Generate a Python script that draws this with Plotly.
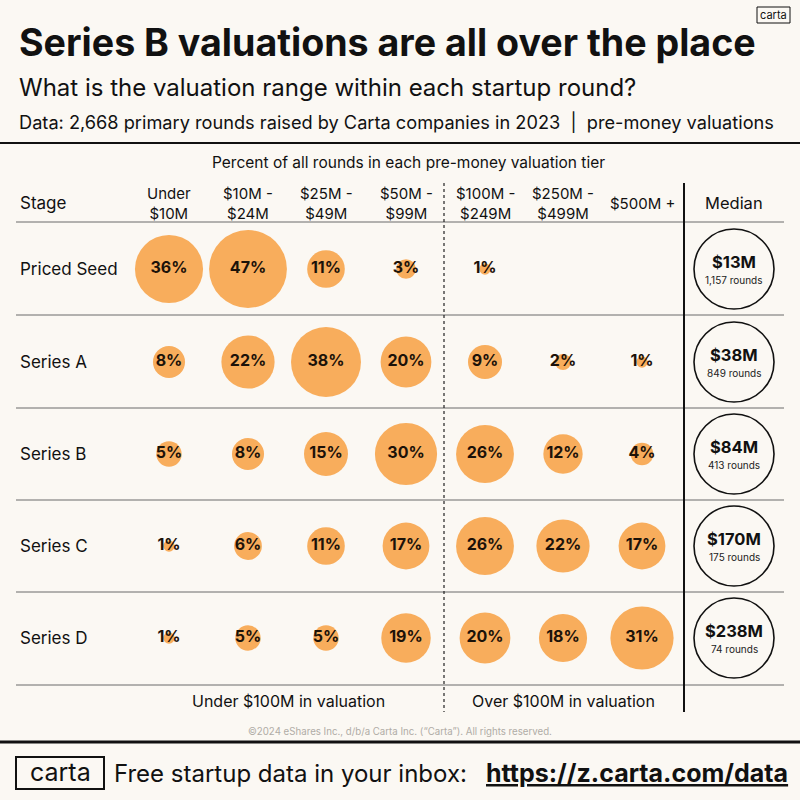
import numpy as np
import plotly.graph_objects as go

# Data
stages = ["Priced Seed", "Series A", "Series B", "Series C", "Series D"]
tiers = ["Under<br>$10M", "$10M -<br>$24M", "$25M -<br>$49M", "$50M -<br>$99M",
         "$100M -<br>$249M", "$250M -<br>$499M", "$500M +"]
pct_seed = [36, 47, 11, 3, 1, None, None]
pct_a = [8, 22, 38, 20, 9, 2, 1]
pct_b = [5, 8, 15, 30, 26, 12, 4]
pct_c = [1, 6, 11, 17, 26, 22, 17]
pct_d = [1, 5, 5, 19, 20, 18, 31]
median_vals = ["$13M", "$38M", "$84M", "$170M", "$238M"]
round_counts = ["1,157 rounds", "849 rounds", "413 rounds", "175 rounds", "74 rounds"]

pcts = [pct_seed, pct_a, pct_b, pct_c, pct_d]

# layout (pixel space)
BG = "#fbf8f3"
ORANGE = "#f8ad5c"
FONT = "Inter"
col_x = [169, 248, 326, 406, 485, 563, 642]
med_x = 734
row_y = [269, 362, 454, 546, 638]
sep_y = [222, 315, 408, 500, 592, 685]

fig = go.Figure()

xs, ys, sizes, labels = [], [], [], []
for r, row in enumerate(pcts):
    for c, v in enumerate(row):
        if v is None:
            continue
        xs.append(col_x[c])
        ys.append(row_y[r])
        sizes.append(11.35 * np.sqrt(v))  # bubble area ~ percent
        labels.append(f"<b>{v}%</b>")

fig.add_trace(go.Scatter(
    x=xs, y=ys, mode="markers+text", text=labels, textposition="middle center",
    marker=dict(size=sizes, color=ORANGE, line=dict(width=0), opacity=1),
    textfont=dict(family=FONT, size=16, color="#1c1209"),
    hoverinfo="skip", showlegend=False,
))

# median circles
fig.add_trace(go.Scatter(
    x=[med_x] * len(stages), y=row_y, mode="markers",
    marker=dict(size=80, color=BG, line=dict(width=1.6, color="#111")),
    hoverinfo="skip", showlegend=False,
))

ann = []
for i, s in enumerate(stages):
    ann.append(dict(x=18, y=row_y[i], text=s, xanchor="left", yanchor="middle",
                    font=dict(size=17, color="#111")))
    ann.append(dict(x=med_x, y=row_y[i] - 7, text=f"<b>{median_vals[i]}</b>",
                    xanchor="center", yanchor="middle", font=dict(size=16.5, color="#111")))
    ann.append(dict(x=med_x, y=row_y[i] + 11, text=round_counts[i],
                    xanchor="center", yanchor="middle", font=dict(size=10, color="#222")))

for i, t in enumerate(tiers):
    ann.append(dict(x=col_x[i], y=203, text=t, xanchor="center", yanchor="middle",
                    font=dict(size=15, color="#111")))
ann.append(dict(x=18, y=203, text="Stage", xanchor="left", yanchor="middle",
                font=dict(size=17, color="#111")))
ann.append(dict(x=med_x, y=203, text="Median", xanchor="center", yanchor="middle",
                font=dict(size=16.5, color="#111")))
ann.append(dict(x=408, y=162, text="Percent of all rounds in each pre-money valuation tier",
                xanchor="center", yanchor="middle", font=dict(size=15.5, color="#111")))
ann.append(dict(x=288, y=701, text="Under $100M in valuation", xanchor="center",
                yanchor="middle", font=dict(size=16, color="#111")))
ann.append(dict(x=563, y=701, text="Over $100M in valuation", xanchor="center",
                yanchor="middle", font=dict(size=16, color="#111")))
ann.append(dict(x=400, y=731, text="©2024 eShares Inc., d/b/a Carta Inc. (“Carta”). All rights reserved.",
                xanchor="center", yanchor="middle", font=dict(size=9.7, color="#b0aca6")))

# titles
ann.append(dict(x=17, y=42, text="<b>Series B valuations are all over the place</b>",
                xanchor="left", yanchor="middle", font=dict(size=37.6, color="#111")))
ann.append(dict(x=17, y=87, text="What is the valuation range within each startup round?",
                xanchor="left", yanchor="middle", font=dict(size=24, color="#111")))
ann.append(dict(x=17, y=122, text="Data: 2,668 primary rounds raised by Carta companies in 2023  |  pre-money valuations",
                xanchor="left", yanchor="middle", font=dict(size=18.2, color="#111")))

# logos / footer
ann.append(dict(x=773, y=15, text="carta", xanchor="center", yanchor="middle",
                font=dict(size=11, color="#111")))
ann.append(dict(x=60, y=772, text="carta", xanchor="center", yanchor="middle",
                font=dict(size=25, color="#111")))
ann.append(dict(x=112, y=773, text="Free startup data in your inbox:", xanchor="left",
                yanchor="middle", font=dict(size=24, color="#111")))
ann.append(dict(x=790, y=773, text="<b><u>https://z.carta.com/data</u></b>", xanchor="right",
                yanchor="middle", font=dict(size=25, color="#111")))

for a in ann:
    a.update(xref="x", yref="y", showarrow=False)

shapes = []
for y in sep_y:
    shapes.append(dict(type="line", x0=16, x1=784, y0=y, y1=y,
                       line=dict(color="#6b6b6b", width=1)))
shapes.append(dict(type="line", x0=0, x1=800, y0=143, y1=143, line=dict(color="#111", width=2)))
shapes.append(dict(type="line", x0=0, x1=800, y0=742, y1=742, line=dict(color="#111", width=3)))
shapes.append(dict(type="line", x0=444, x1=444, y0=183, y1=712,
                   line=dict(color="#222", width=1.2, dash="dot")))
shapes.append(dict(type="line", x0=684, x1=684, y0=183, y1=712, line=dict(color="#111", width=2)))
shapes.append(dict(type="rect", x0=16, x1=104, y0=757, y1=789, line=dict(color="#111", width=2)))
shapes.append(dict(type="rect", x0=757, x1=790, y0=7, y1=23, line=dict(color="#111", width=1)))
for s in shapes:
    s.update(xref="x", yref="y", layer="below")

fig.update_layout(
    width=800, height=800, margin=dict(l=0, r=0, t=0, b=0),
    paper_bgcolor=BG, plot_bgcolor=BG,
    font=dict(family=FONT),
    xaxis=dict(range=[0, 800], visible=False, fixedrange=True),
    yaxis=dict(range=[800, 0], visible=False, fixedrange=True),
    annotations=ann, shapes=shapes,
)

# drop the default page margin so the 800px figure fills the window
fig.write_html("out.html", config={"displayModeBar": False},
               post_script="document.body.style.margin='0';")
